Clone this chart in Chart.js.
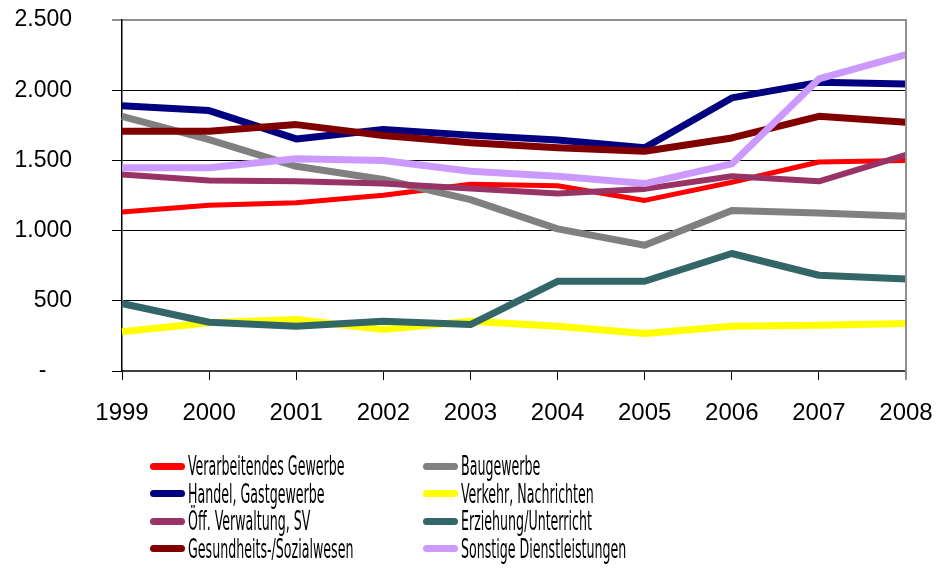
<!DOCTYPE html>
<html>
<head>
<meta charset="utf-8">
<script src="https://cdn.jsdelivr.net/npm/chart.js@4.4.1/dist/chart.umd.min.js"></script>
<style>
  body { margin: 0; background: #fff; }
  #wrap { position: relative; width: 939px; height: 569px; }
  #legend { position: absolute; left: 0; top: 0; width: 939px; height: 569px; pointer-events: none; }
  .lg-line { position: absolute; width: 35px; height: 7px; border-radius: 3.5px; }
  .lg-text { position: absolute; font-family: "DejaVu Sans Condensed", sans-serif;
             font-size: 26px; line-height: 28px; color: #000; white-space: nowrap;
             transform: scaleX(0.54); transform-origin: left center; }
</style>
</head>
<body>
<div id="wrap">
  <canvas id="chart" width="939" height="440"></canvas>
  <div id="legend"></div>
</div>
<script>
// DADOS
const years = ['1999', '2000', '2001', '2002', '2003', '2004', '2005', '2006', '2007', '2008'];

const verarbeitendes = [1133, 1180, 1198, 1252, 1330, 1320, 1215, 1344, 1489, 1499];
const baugewerbe     = [1814, 1648, 1458, 1364, 1221, 1012, 896, 1143, 1126, 1102];
const handel         = [1890, 1855, 1653, 1720, 1680, 1645, 1590, 1945, 2056, 2045];
const verkehr        = [279, 343, 367, 295, 355, 319, 267, 319, 326, 338];
const oeffentlich    = [1399, 1356, 1351, 1335, 1300, 1265, 1297, 1387, 1351, 1540];
const erziehung      = [481, 347, 319, 355, 331, 639, 639, 837, 682, 656];
const gesundheit     = [1707, 1707, 1755, 1677, 1625, 1590, 1565, 1660, 1814, 1771];
const sonstige       = [1447, 1447, 1511, 1499, 1423, 1387, 1335, 1475, 2080, 2253];

const seriesNames = [
    'Verarbeitendes Gewerbe', 'Baugewerbe',
    'Handel, Gastgewerbe', 'Verkehr, Nachrichten',
    'Öff. Verwaltung, SV', 'Erziehung/Unterricht',
    'Gesundheits-/Sozialwesen', 'Sonstige Dienstleistungen'
];
const seriesValues = [verarbeitendes, baugewerbe, handel, verkehr, oeffentlich, erziehung, gesundheit, sonstige];
const seriesColors = ['#ff0000', '#808080', '#000080', '#ffff00', '#993366', '#336666', '#800000', '#cc99ff'];
const seriesWidths = [5, 7, 7, 7, 6, 7, 7, 7];

const yTicks = [0, 500, 1000, 1500, 2000, 2500];

const FONT_Y = { family: '"Liberation Sans", Arial, sans-serif', size: 23 };
const FONT_X = { family: '"Liberation Sans", Arial, sans-serif', size: 24 };

function fmt(v) {
    if (v === 0) return '-\u00A0\u00A0\u00A0\u00A0';
    return String(v).replace(/\B(?=(\d{3})+(?!\d))/g, '.');
}

// borda direita cinza
const frame = {
    id: 'frame',
    afterDatasetsDraw(chart) {
        const { ctx, chartArea: a } = chart;
        ctx.save();
        ctx.strokeStyle = '#909090';
        ctx.lineWidth = 2;
        ctx.beginPath();
        ctx.moveTo(a.right, a.top - 1);
        ctx.lineTo(a.right, a.bottom + 9);
        ctx.stroke();
        ctx.restore();
    }
};

const datasets = seriesNames.map((name, i) => ({
    label: name,
    data: seriesValues[i],
    borderColor: seriesColors[i],
    backgroundColor: seriesColors[i],
    borderWidth: seriesWidths[i],
    pointRadius: 0,
    pointHoverRadius: 0,
    tension: 0,
    borderJoinStyle: 'round',
    borderCapStyle: 'butt',
    order: seriesNames.length - i
}));

new Chart(document.getElementById('chart'), {
    type: 'line',
    data: { labels: years, datasets },
    plugins: [frame],
    options: {
        responsive: false,
        animation: false,
        layout: { autoPadding: false, padding: { top: 20, right: 33, left: 0, bottom: 0 } },
        plugins: { legend: { display: false }, tooltip: { enabled: false } },
        scales: {
            x: {
                offset: false,
                grid: { drawOnChartArea: false, color: '#000', tickLength: 9, lineWidth: 1 },
                border: { color: '#404040', width: 2 },
                ticks: { color: '#000', font: FONT_X, padding: 19, maxRotation: 0, autoSkip: false },
                afterFit: s => {
                    s.height = 69;
                    s.paddingLeft = 0; s.paddingRight = 0; s.paddingTop = 0; s.paddingBottom = 0;
                }
            },
            y: {
                min: 0,
                max: 2500,
                afterBuildTicks: s => { s.ticks = yTicks.map(v => ({ value: v })); },
                grid: {
                    color: c => (c.tick && c.tick.value === 2500 ? '#909090' : '#000'),
                    lineWidth: c => (c.tick && c.tick.value === 2500 ? 2 : 1),
                    tickLength: 10
                },
                border: { color: '#000', width: 1.5 },
                ticks: { color: '#000', font: FONT_Y, padding: 40, callback: v => fmt(v) },
                afterFit: s => {
                    s.width = 122;
                    s.paddingLeft = 0; s.paddingRight = 0; s.paddingTop = 0; s.paddingBottom = 0;
                }
            }
        }
    }
});

// LEGENDA
const legend = document.getElementById('legend');
const colX = [150, 423];
const rowY = [466, 493.5, 521, 548.5];
seriesNames.forEach((name, i) => {
    const col = i % 2, row = Math.floor(i / 2);
    const line = document.createElement('div');
    line.className = 'lg-line';
    line.style.left = colX[col] + 'px';
    line.style.top = (rowY[row] - 3.5) + 'px';
    line.style.background = seriesColors[i];
    legend.appendChild(line);
    const txt = document.createElement('div');
    txt.className = 'lg-text';
    txt.textContent = name;
    txt.style.left = (colX[col] + 38) + 'px';
    txt.style.top = (rowY[row] - 14) + 'px';
    legend.appendChild(txt);
});
</script>
</body>
</html>
